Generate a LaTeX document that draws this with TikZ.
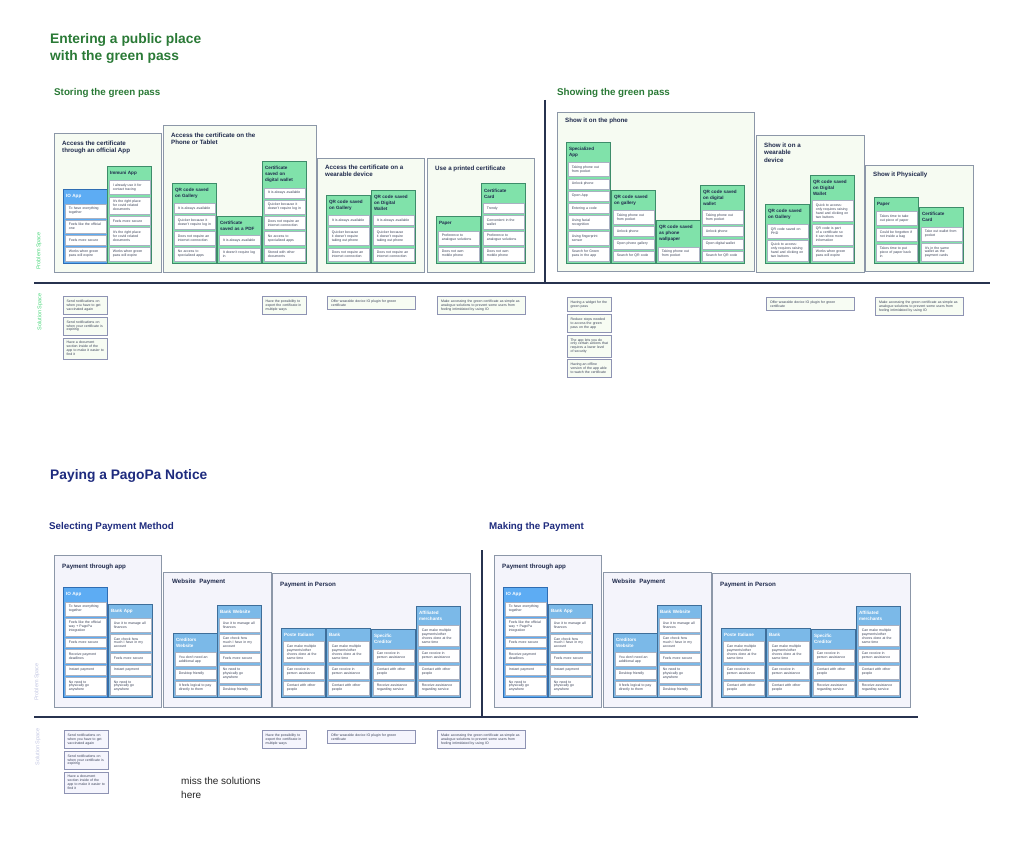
\documentclass[tikz,border=0pt]{standalone}
\usepackage{fontspec}
\setmainfont{Liberation Sans}
\usetikzlibrary{positioning}
\usetikzlibrary{fit}
\hyphenpenalty=10000
\exhyphenpenalty=10000
\pgfdeclarelayer{back}
\pgfdeclarelayer{mid}
\pgfsetlayers{back,mid,main}
\definecolor{gtitle}{HTML}{2A7A36}
\definecolor{btitle}{HTML}{1E2B7E}
\definecolor{ptext}{HTML}{1F2A4C}
\definecolor{panelline}{HTML}{8C97A8}
\definecolor{panelgfill}{HTML}{F6FBF2}
\definecolor{panelbfill}{HTML}{F4F4FB}
\definecolor{mint}{HTML}{80E2AA}
\definecolor{mintline}{HTML}{3E8C6A}
\definecolor{iob}{HTML}{5DACF3}
\definecolor{ioline}{HTML}{2F6DB3}
\definecolor{bankb}{HTML}{7BB9E8}
\definecolor{bankline}{HTML}{3E6E9A}
\definecolor{itemline}{HTML}{A9B1C2}
\definecolor{itemtext}{HTML}{3A4258}
\definecolor{solline}{HTML}{8E93B3}
\definecolor{solgfill}{HTML}{F7FCF3}
\definecolor{solbfill}{HTML}{F5F5FD}
\definecolor{spaceg}{HTML}{4FD97F}
\definecolor{spaceb}{HTML}{C4C8E4}
\definecolor{rulecol}{HTML}{27324F}
\tikzset{
    bigtitle/.style = {anchor=north west, inner sep=0pt, align=left, font=\fontsize{13.8}{17}\selectfont\bfseries},
    subtitle/.style = {anchor=north west, inner sep=0pt, font=\fontsize{9.8}{11}\selectfont\bfseries},
    ptitle/.style = {anchor=north west, inner sep=0pt, align=left, text=ptext, font=\fontsize{6.2}{7.3}\selectfont\bfseries},
    gpanel/.style = {draw=panelline, fill=panelgfill, line width=0.8pt},
    bpanel/.style = {draw=panelline, fill=panelbfill, line width=0.8pt},
    item/.style = {draw=itemline, fill=white, line width=0.4pt, text width=33.2pt, minimum width=41pt, minimum height=8.5pt, align=left, inner xsep=3pt, inner ysep=3.4pt, text=itemtext, font=\fontsize{3.5}{3.9}\selectfont},
    colhead/.style = {text width=39pt, align=left, inner xsep=2pt, inner ysep=4.7pt, font=\fontsize{4.6}{6}\selectfont\bfseries},
    mintcol/.style = {draw=mintline, fill=mint, line width=0.8pt, inner sep=0pt},
    mintcolhead/.style = {colhead, text=ptext},
    iocol/.style = {draw=ioline, fill=iob, line width=0.8pt, inner sep=0pt},
    iocolhead/.style = {colhead, text=white},
    bankcol/.style = {draw=bankline, fill=bankb, line width=0.8pt, inner sep=0pt},
    bankcolhead/.style = {colhead, text=white},
    sol/.style = {draw=solline, line width=0.7pt, align=left, inner xsep=3pt, inner ysep=3.5pt, text=itemtext, font=\fontsize{3.5}{3.9}\selectfont},
    gsol/.style = {sol, fill=solgfill, text width=37.5pt, minimum width=44pt},
    gsolwide/.style = {sol, fill=solgfill, text width=80.5pt, minimum width=88pt},
    bsol/.style = {sol, fill=solbfill, text width=37.5pt, minimum width=44pt},
    bsolwide/.style = {sol, fill=solbfill, text width=80.5pt, minimum width=88pt},
    spacelabel/.style = {rotate=90, inner sep=0pt, font=\fontsize{5.5}{6}\selectfont},
    divider/.style = {draw=rulecol, line width=1.6pt}
}
% one column of cards: #1 name, #2 left x, #3 bottom y, #4 colour style,
% #5 header, #6 cards listed from the bottom up
\newcommand{\stackcol}[6]{%
  \coordinate (#1-0) at (#2+21.5,#3);
  \foreach \txt [count=\i, remember=\i as \j (initially 0)] in {#6}{%
    \node[item, above=1.8pt of #1-\j] (#1-\i) {\txt};
    \xdef\lastitem{#1-\i}}
  \node[#4head, above=0pt of \lastitem] (#1-h) {#5};
  \begin{pgfonlayer}{mid}
    \node[#4, fit=(#1-0)(#1-h)] (#1) {};
  \end{pgfonlayer}}

\begin{document}
\begin{tikzpicture}[x=1pt,y=-1pt]
\useasboundingbox (0,0) rectangle (1018,859);
%
\node[bigtitle, text=gtitle] (tenter) at (50,33) {Entering a public place\\with the green pass};
\node[subtitle, text=gtitle] (tstore) at (54,88) {Storing the green pass};
\node[subtitle, text=gtitle] (tshow) at (557,88) {Showing the green pass};
\node[bigtitle, text=btitle] (tpay) at (50,469) {Paying a PagoPa Notice};
\node[subtitle, text=btitle] (tselect) at (49,522) {Selecting Payment Method};
\node[subtitle, text=btitle] (tmake) at (489,522) {Making the Payment};
%
\begin{pgfonlayer}{back}
\fill[white] (0,0) rectangle (1018,859);
\path[gpanel] (54,133) rectangle (161,272);
\path[gpanel] (163,125) rectangle (316,272);
\path[gpanel] (317,158) rectangle (424,272);
\path[gpanel] (427,158) rectangle (534,272);
\path[gpanel] (557,112) rectangle (754,271);
\path[gpanel] (756,135) rectangle (864,272);
\path[gpanel] (865,165) rectangle (973,271);
\foreach \dx in {0,440}{
  \path[bpanel] (54+\dx,555) rectangle (161+\dx,707);
  \path[bpanel] (163+\dx,572) rectangle (271+\dx,707);
  \path[bpanel] (272+\dx,573) rectangle (470+\dx,707);
}
\end{pgfonlayer}
%
\node[ptitle] (p1) at (62,141) {Access the certificate\\through an official App};
\node[ptitle] (p2) at (171,133) {Access the certificate on the\\Phone or Tablet};
\node[ptitle] (p3) at (325,165) {Access the certificate on a\\wearable device};
\node[ptitle] (p4) at (435,166) {Use a printed certificate};
\node[ptitle] (p5) at (565,118) {Show it on the phone};
\node[ptitle] (p6) at (764,143) {Show it on a\\wearable\\device};
\node[ptitle] (p7) at (873,172) {Show it Physically};
%
% storing the green pass
\stackcol{ioapp}{64}{263}{iocol}{IO App}{Works when green pass will expire, Feels more secure, Feels like the official one, To have everything together}
\stackcol{immuni}{108}{263}{mintcol}{Immuni App}{Works when green pass will expire, It's the right place for covid related documents, Feels more secure, It's the right place for covid related documents, I already use it for contact tracing}
\stackcol{gallery}{173}{263}{mintcol}{QR code saved\\on Gallery}{No access to specialized apps, Does not require an internet connection, Quicker because it doesn't require log in, It is always available}
\stackcol{pdf}{218}{263}{mintcol}{Certificate\\saved as a PDF}{It doesn't require log in, It is always available}
\stackcol{wallet}{263}{263}{mintcol}{Certificate\\saved on\\digital wallet}{Stored with other documents, No access to specialized apps, Does not require an internet connection, Quicker because it doesn't require log in, It is always available}
\stackcol{wgallery}{327}{263}{mintcol}{QR code saved\\on Gallery}{Does not require an internet connection, Quicker because it doesn't require taking out phone, It is always available}
\stackcol{wwallet}{372}{263}{mintcol}{QR code saved\\on Digital\\Wallet}{Does not require an internet connection, Quicker because it doesn't require taking out phone, It is always available}
\stackcol{paper}{437}{263}{mintcol}{Paper}{Does not own mobile phone, Preference to analogue solutions}
\stackcol{card}{482}{263}{mintcol}{Certificate\\Card}{Does not own mobile phone, Preference to analogue solutions, Convenient in the wallet, Trendy}
%
% showing the green pass
\stackcol{sapp}{567}{263}{mintcol}{Specialized\\App}{Search for Green pass in the app, Using fingerprint sensor, Using facial recognition, Entering a code, Open App, Unlock phone, Taking phone out from pocket}
\stackcol{sgallery}{612}{263}{mintcol}{QR code saved\\on gallery}{Search for QR code, Open phone gallery, Unlock phone, Taking phone out from pocket}
\stackcol{swallpaper}{657}{263}{mintcol}{QR code saved\\as phone\\wallpaper}{Taking phone out from pocket}
\stackcol{swallet}{701}{263}{mintcol}{QR code saved\\on digital\\wallet}{Search for QR code, Open digital wallet, Unlock phone, Taking phone out from pocket}
\stackcol{dgallery}{766}{263}{mintcol}{QR code saved\\on Gallery}{Quick to access: only requires raising hand and clicking on two buttons, QR code saved on PHD}
\stackcol{dwallet}{811}{263}{mintcol}{QR code saved\\on Digital\\Wallet}{Works when green pass will expire, QR code is part of a certificate so it can show more information, Quick to access: only requires raising hand and clicking on two buttons}
\stackcol{fpaper}{875}{263}{mintcol}{Paper}{Takes time to put piece of paper back in, Could be forgotten if not inside a bag, Takes time to take out piece of paper}
\stackcol{fcard}{920}{263}{mintcol}{Certificate\\Card}{It's in the same wallet as the payment cards, Take out wallet from pocket}
%
\node[spacelabel, text=spaceg] (probg) at (39,251) {Problem Space};
\node[spacelabel, text=spaceg] (solg) at (40,312) {Solution Space};
\draw[divider] (34,283) -- (990,283);
\draw[divider] (545,100) -- (545,283);
%
\node[gsol, anchor=north west] (s1) at (63,296) {Send notifications on when you have to get vaccinated again};
\node[gsol, below=2pt of s1] (s2) {Send notifications on when your certificate is expiring};
\node[gsol, below=2pt of s2] (s3) {Have a document section inside of the app to make it easier to find it};
\node[gsol, anchor=north west] (s4) at (262,296) {Have the possibility to export the certificate in multiple ways};
\node[gsolwide, anchor=north west] (s5) at (327,296) {Offer wearable device IO plugin for green certificate};
\node[gsolwide, anchor=north west] (s6) at (437,296) {Make accessing the green certificate as simple as analogue solutions to prevent some users from feeling intimidated by using IO};
\node[gsol, anchor=north west] (s7) at (567,297) {Having a widget for the green pass};
\node[gsol, below=2pt of s7] (s8) {Reduce steps needed to access the green pass on the app};
\node[gsol, below=2pt of s8] (s9) {The app lets you do only certain actions that requires a lower level of security};
\node[gsol, below=2pt of s9] (s10) {Having an offline version of the app able to watch the certificate};
\node[gsolwide, anchor=north west] (s11) at (766,297) {Offer wearable device IO plugin for green certificate};
\node[gsolwide, anchor=north west] (s12) at (875,297) {Make accessing the green certificate as simple as analogue solutions to prevent some users from feeling intimidated by using IO};
%
% paying a pagopa notice, both halves
\foreach \dx/\h in {0/l,440/r}{
  \node[ptitle] (pa\h) at (62+\dx,564) {Payment through app};
  \node[ptitle] (pw\h) at (172+\dx,579) {Website\ \ Payment};
  \node[ptitle] (pp\h) at (280+\dx,582) {Payment in Person};
  \stackcol{io\h}{64+\dx}{697}{iocol}{IO App}{No need to physically go anywhere, Instant payment, Receive payment deadlines, Feels more secure, Feels like the official way + PagoPa integration, To have everything together}
  \stackcol{bankapp\h}{109+\dx}{697}{bankcol}{Bank App}{No need to physically go anywhere, Instant payment, Feels more secure, Can check how much I have in my account, Use it to manage all finances}
  \stackcol{credweb\h}{174+\dx}{697}{bankcol}{Creditors\\Website}{It feels logical to pay directly to them, Desktop friendly, You don't need an additional app}
  \stackcol{bankweb\h}{218+\dx}{697}{bankcol}{Bank Website}{Desktop friendly, No need to physically go anywhere, Feels more secure, Can check how much I have in my account, Use it to manage all finances}
  \stackcol{poste\h}{282+\dx}{697}{bankcol}{Poste Italiane}{Contact with other people, Can receive in person assistance, Can make multiple payments/other chores done at the same time}
  \stackcol{bank\h}{327+\dx}{697}{bankcol}{Bank}{Contact with other people, Can receive in person assistance, Can make multiple payments/other chores done at the same time}
  \stackcol{creditor\h}{372+\dx}{697}{bankcol}{Specific\\Creditor}{Receive assistance regarding service, Contact with other people, Can receive in person assistance}
  \stackcol{merchant\h}{417+\dx}{697}{bankcol}{Affiliated\\merchants}{Receive assistance regarding service, Contact with other people, Can receive in person assistance, Can make multiple payments/other chores done at the same time}
}
%
\node[spacelabel, text=spaceb] (probb) at (37,682) {Problem Space};
\node[spacelabel, text=spaceb] (solb) at (38,747) {Solution Space};
\draw[divider] (34,717) -- (918,717);
\draw[divider] (482,550) -- (482,717);
%
\node[bsol, anchor=north west] (b1) at (64,730) {Send notifications on when you have to get vaccinated again};
\node[bsol, below=2pt of b1] (b2) {Send notifications on when your certificate is expiring};
\node[bsol, below=2pt of b2] (b3) {Have a document section inside of the app to make it easier to find it};
\node[bsol, anchor=north west] (b4) at (262,730) {Have the possibility to export the certificate in multiple ways};
\node[bsolwide, anchor=north west] (b5) at (327,730) {Offer wearable device IO plugin for green certificate};
\node[bsolwide, anchor=north west] (b6) at (437,730) {Make accessing the green certificate as simple as analogue solutions to prevent some users from feeling intimidated by using IO};
%
\node[anchor=north west, inner sep=0pt, align=left, text=black!85, font=\fontsize{10}{14}\selectfont] (miss) at (181,777) {miss the solutions\\here};

\end{tikzpicture}
\end{document}
